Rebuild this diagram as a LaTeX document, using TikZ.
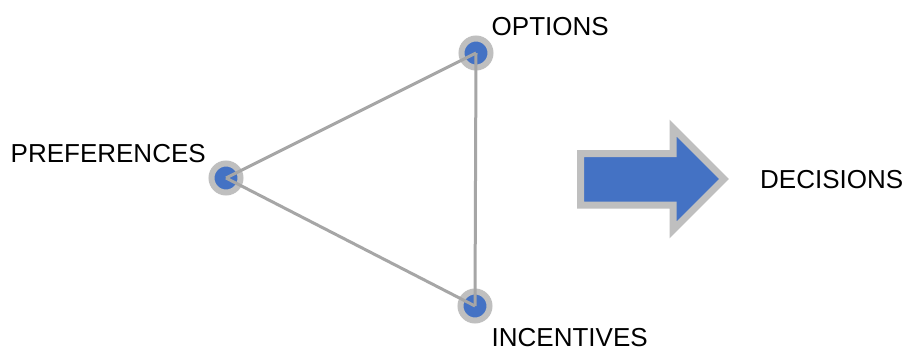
\documentclass[tikz,border=0pt]{standalone}
\usepackage{fontspec}
\setmainfont{Liberation Sans}
\definecolor{dotblue}{HTML}{4472C4}
\definecolor{ringgray}{HTML}{BFBFBF}
\definecolor{linegray}{HTML}{A6A6A6}
\begin{document}
\begin{tikzpicture}[x=1pt,y=-1pt,
  dot/.style={circle,fill=dotblue,draw=ringgray,line width=6pt,minimum size=29pt,inner sep=0pt,outer sep=0pt},
  link/.style={draw=linegray,line width=3pt},
  lbl/.style={font=\fontsize{26}{30}\selectfont,inner sep=0pt,text depth=0pt,anchor=base west,text=black},
  bigarrow/.style={fill=dotblue,draw=ringgray,line width=7pt,line join=miter}]
\useasboundingbox (0,0) rectangle (905,351);
\fill[white] (0,0) rectangle (905,351);
\node[dot] (o) at (476,53) {};
\node[dot] (p) at (226,178) {};
\node[dot] (i) at (475,306) {};
\draw[link] (p.center) -- (o.center);
\draw[link] (o.center) -- (i.center);
\draw[link] (p.center) -- (i.center);
\node[lbl] (ot) at (491.5,35) {OPTIONS};
\node[lbl] (pt) at (10.5,162) {PREFERENCES};
\node[lbl] (it) at (491.5,346.5) {INCENTIVES};
\node[lbl] (dt) at (760,188) {DECISIONS};
\draw[bigarrow] (580.5,153.5) -- (673,153.5) -- (673,128) -- (724,179) -- (673,230) -- (673,205) -- (580.5,205) -- cycle;
\end{tikzpicture}
\end{document}
